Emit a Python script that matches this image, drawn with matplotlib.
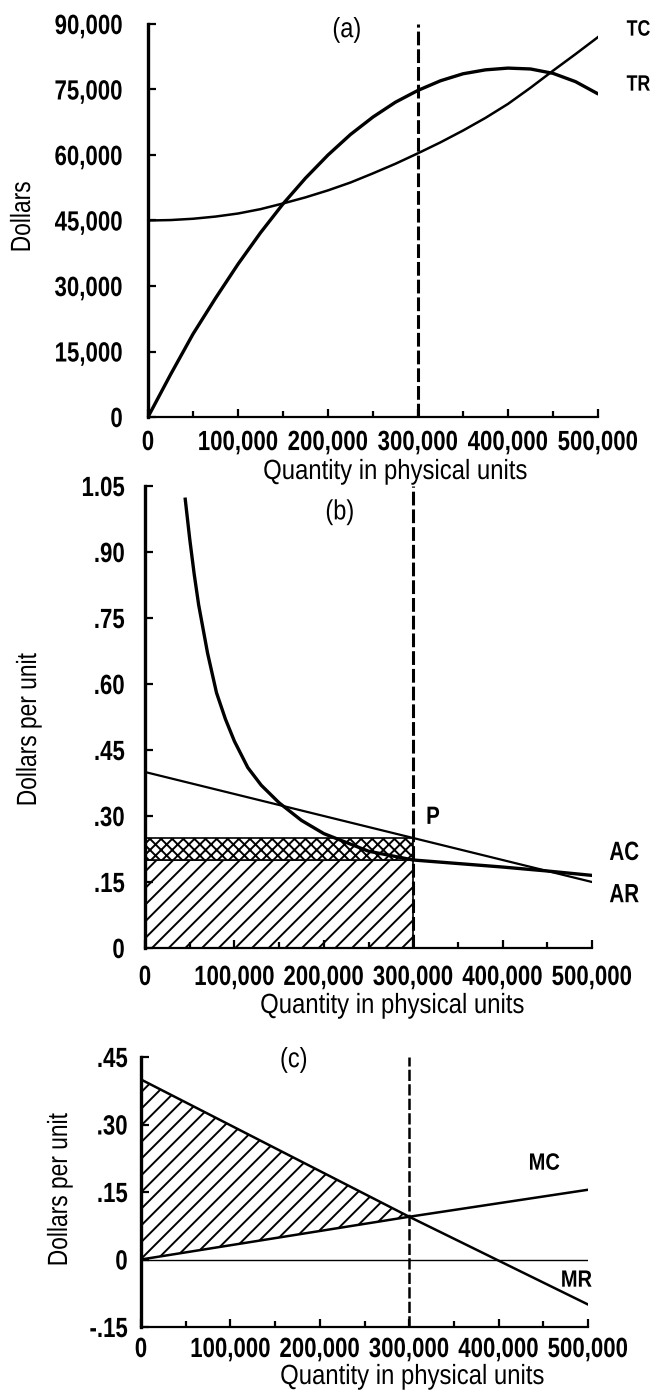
import matplotlib
matplotlib.use('Agg')
import matplotlib.pyplot as plt
from matplotlib.ticker import FixedLocator, FuncFormatter
from matplotlib.patheffects import AbstractPathEffect
from matplotlib.transforms import Affine2D

plt.rcParams['font.family'] = ['Liberation Sans', 'DejaVu Sans']
plt.rcParams['hatch.linewidth'] = 1.4

W, H = 657, 1396

# ---- (a) total revenue / total cost ----
q_tot = [0, 25000, 50000, 75000, 100000, 125000, 150000, 175000, 200000, 225000, 250000,
         275000, 300000, 325000, 350000, 375000, 400000, 425000, 450000, 475000, 500000]
tr = [0, 9700, 19000, 27200, 35000, 42200, 48800, 54700, 60000, 64700, 68700,
      72100, 74800, 77000, 78600, 79500, 79900, 79700, 78700, 76800, 74000]
tc = [45000, 45100, 45400, 45900, 46600, 47600, 48900, 50300, 51900, 53700, 55800,
      58000, 60400, 62900, 65600, 68500, 71700, 75400, 79300, 83100, 87000]

# ---- (b) average cost / average revenue ----
q_ac = [45000, 50000, 55000, 60000, 70000, 80000, 90000, 100000, 115000, 130000, 150000,
        175000, 200000, 225000, 250000, 275000, 300000, 350000, 400000, 450000, 500000]
ac = [1.02, 0.93, 0.85, 0.78, 0.67, 0.58, 0.52, 0.47, 0.41, 0.37, 0.33,
      0.29, 0.26, 0.24, 0.22, 0.21, 0.20, 0.192, 0.184, 0.175, 0.165]
q_ar = [0, 500000]
ar = [0.40, 0.15]
q_opt = 300000
ac_opt = 0.20
ar_opt = 0.25

# ---- (c) marginal cost / marginal revenue ----
q_m = [0, 300000, 500000]
mr = [0.40, 0.095, -0.10]
mc = [0.0, 0.095, 0.155]

q_ticks = [0, 100000, 200000, 300000, 400000, 500000]
q_minor = [50000, 150000, 250000, 350000, 450000]


class Narrow(AbstractPathEffect):
    """squeeze text along its baseline, to get the condensed look of the print"""
    def __init__(self, factor=0.82, anchor='center', vertical=False):
        super().__init__()
        self.factor = factor
        self.anchor = anchor
        self.vertical = vertical

    def draw_path(self, renderer, gc, tpath, affine, rgbFace=None):
        box = tpath.get_extents(affine)
        if self.vertical:
            c = (box.y0 + box.y1) / 2
            squeeze = Affine2D().translate(0, -c).scale(1, self.factor).translate(0, c)
        else:
            if self.anchor == 'right':
                c = box.x1
            elif self.anchor == 'left':
                c = box.x0
            else:
                c = (box.x0 + box.x1) / 2
            squeeze = Affine2D().translate(-c, 0).scale(self.factor, 1).translate(c, 0)
        renderer.draw_path(gc, tpath, affine + squeeze, rgbFace)


def fig_xy(px, py):
    return px / W, 1 - py / H


def make_axes(fig, left, top, right, bottom, xpad, ypad):
    ax = fig.add_axes([left / W, 1 - bottom / H, (right - left) / W, (bottom - top) / H])
    for s in ['top', 'right']:
        ax.spines[s].set_visible(False)
    ax.spines['left'].set_linewidth(2.4)
    ax.spines['bottom'].set_linewidth(1.6)
    ax.set_xlim(0, 500000)
    ax.xaxis.set_major_locator(FixedLocator(q_ticks))
    ax.xaxis.set_minor_locator(FixedLocator(q_minor))
    ax.xaxis.set_major_formatter(FuncFormatter(lambda v, p: '{:,.0f}'.format(v)))
    ax.tick_params(axis='both', which='major', direction='in', length=6, width=1.6,
                   labelsize=20, color='black')
    ax.tick_params(axis='x', which='minor', direction='in', length=4, width=1.6)
    ax.tick_params(axis='x', pad=xpad)
    ax.tick_params(axis='y', pad=ypad)
    return ax


def style_ticks(ax):
    for lab in ax.get_xticklabels():
        lab.set_fontweight('bold')
        lab.set_path_effects([Narrow(0.8)])
    for lab in ax.get_yticklabels():
        lab.set_fontweight('bold')
        lab.set_path_effects([Narrow(0.8, anchor='right')])


def label(ax, x, y, s, size=17, sq=0.82, weight='bold'):
    ax.text(x, y, s, ha='center', va='center', fontsize=size, fontweight=weight,
            path_effects=[Narrow(sq)])


def y_title(px, py, s):
    fig.text(*fig_xy(px, py), s, rotation=90, ha='center', va='center', fontsize=20,
             path_effects=[Narrow(0.82, vertical=True)])


def x_title(px, py):
    fig.text(*fig_xy(px, py), 'Quantity in physical units', ha='center', va='center',
             fontsize=20, path_effects=[Narrow(0.86)])


fig = plt.figure(figsize=(W / 100, H / 100), dpi=100)
fig.patch.set_facecolor('white')

dash = (0, (4.5, 1.3))

# ================= panel (a) =================
ax1 = make_axes(fig, 148, 24, 598, 417, 9.4, 18)
ax1.set_ylim(0, 90000)
ax1.yaxis.set_major_locator(FixedLocator([0, 15000, 30000, 45000, 60000, 75000, 90000]))
ax1.yaxis.set_major_formatter(FuncFormatter(lambda v, p: '{:,.0f}'.format(v)))
style_ticks(ax1)
ax1.plot(q_tot, tr, color='black', lw=2.4, solid_capstyle='round')
ax1.plot(q_tot, tc, color='black', lw=1.8)
ax1.axvline(q_opt, color='black', lw=2.2, linestyle=dash)
label(ax1, 221000, 88600, '(a)', size=20, sq=0.85, weight='normal')
label(ax1, 545000, 88600, 'TC', size=16, sq=0.8)
label(ax1, 545000, 76000, 'TR', size=16, sq=0.8)
y_title(23, 217, 'Dollars')
x_title(395, 472)

# ================= panel (b) =================
ax2 = make_axes(fig, 145, 486, 592, 948, 12.2, 14.4)
ax2.set_ylim(0, 1.05)
ax2.yaxis.set_major_locator(FixedLocator([0, 0.15, 0.30, 0.45, 0.60, 0.75, 0.90, 1.05]))
ax2.yaxis.set_major_formatter(FuncFormatter(
    lambda v, p: '0' if v == 0 else ('{:.2f}'.format(v)).lstrip('0')))
style_ticks(ax2)
ax2.fill_between([0, q_opt], 0, ac_opt, facecolor='white', edgecolor='black',
                 hatch='//', lw=1.2)
ax2.fill_between([0, q_opt], ac_opt, ar_opt, facecolor='white', edgecolor='black',
                 hatch='xxx', lw=1.2)
ax2.plot(q_ac, ac, color='black', lw=2.4)
ax2.plot(q_ar, ar, color='black', lw=1.6)
ax2.axvline(q_opt, color='black', lw=2.2, linestyle=dash)
label(ax2, 218000, 0.99, '(b)', size=20, sq=0.85, weight='normal')
label(ax2, 322000, 0.298, 'P', size=18)
label(ax2, 536000, 0.216, 'AC', size=19, sq=0.78)
label(ax2, 536000, 0.120, 'AR', size=19, sq=0.78)
y_title(29, 730, 'Dollars per unit')
x_title(392, 1006)

# ================= panel (c) =================
ax3 = make_axes(fig, 141, 1057, 588, 1327, 7.2, 9.4)
ax3.set_ylim(-0.15, 0.45)
ax3.yaxis.set_major_locator(FixedLocator([-0.15, 0, 0.15, 0.30, 0.45]))
ax3.yaxis.set_major_formatter(FuncFormatter(
    lambda v, p: '0' if abs(v) < 1e-9 else ('-' if v < 0 else '') + ('{:.2f}'.format(abs(v))).lstrip('0')))
style_ticks(ax3)
ax3.fill_between(q_m[:2], mc[:2], mr[:2], facecolor='white', edgecolor='black',
                 hatch='//', lw=0)
ax3.axhline(0, color='black', lw=1.0)
ax3.plot(q_m, mr, color='black', lw=1.8)
ax3.plot(q_m, mc, color='black', lw=1.8)
ax3.axvline(q_opt, color='black', lw=1.8, linestyle=dash)
label(ax3, 171000, 0.443, '(c)', size=20, sq=0.85, weight='normal')
label(ax3, 451000, 0.214, 'MC', size=17, sq=0.85)
label(ax3, 487000, -0.046, 'MR', size=17, sq=0.85)
y_title(60, 1190, 'Dollars per unit')
x_title(412, 1377)

fig.savefig('out.png', dpi=100, facecolor='white')
